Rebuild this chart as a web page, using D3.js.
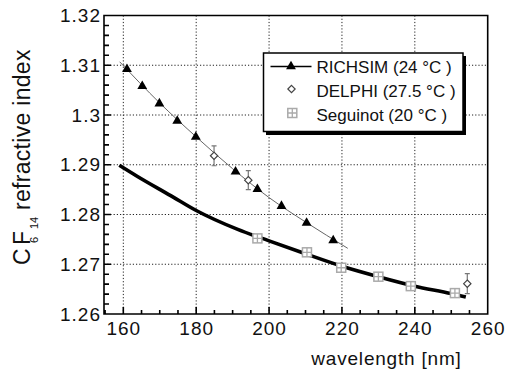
<!DOCTYPE html>
<html>
<head>
<meta charset="utf-8">
<script src="https://cdn.jsdelivr.net/npm/d3@7"></script>
<style>
  body { margin: 0; background: #fff; }
  svg { display: block; font-family: "Liberation Sans", Arial, Helvetica, sans-serif; }
</style>
</head>
<body>
<svg width="523" height="374"></svg>
<script>
// RICHSIM points (triangles), wavelength nm / refractive index
const richWl = [161, 165.2, 169.9, 174.8, 179.9, 190.8, 196.8, 203.4, 210.3, 217.6];
const richN = [1.3092, 1.3058, 1.3023, 1.2988, 1.2956, 1.2886, 1.2851, 1.2817, 1.2783, 1.2748];
// thin line through RICHSIM
const richFitWl = [159, 170, 180, 190, 200, 210, 221.6];
const richFitN = [1.3107, 1.3024, 1.2956, 1.2892, 1.2834, 1.2785, 1.2732];
// DELPHI points with errors
const delphiWl = [184.9, 194.3, 254.4];
const delphiN = [1.2918, 1.2869, 1.2661];
const delphiErr = [0.002, 0.0019, 0.002];
// Seguinot points
const segWl = [196.8, 210.4, 219.8, 230, 238.9, 251];
const segN = [1.2752, 1.2724, 1.2693, 1.2675, 1.2656, 1.2642];
// thick curve
const segFitWl = [158.9, 164, 173, 180, 191.4, 200, 210, 220, 230, 240, 250, 254];
const segFitN = [1.2899, 1.2876, 1.2838, 1.2808, 1.2770, 1.2747, 1.2721, 1.2696, 1.2675, 1.2656, 1.2641, 1.2634];

const xTicks = [160, 180, 200, 220, 240, 260];
const yTicks = [1.26, 1.27, 1.28, 1.29, 1.30, 1.31, 1.32];
const legendLabels = ["RICHSIM (24 °C )", "DELPHI (27.5 °C )", "Seguinot (20 °C )"];

const svg = d3.select("svg");
const L = 104, R = 487.7, T = 15.5, B = 314;

const x = d3.scaleLinear().domain([154.7, 260]).range([L, R]);
const y = d3.scaleLinear().domain([1.26, 1.32]).range([B, T]);

const minorX = d3.range(155, 260, 5).filter(d => d % 20 !== 0);
const minorY = d3.range(1.26, 1.3201, 0.002).filter(d => Math.abs(d * 100 - Math.round(d * 100)) > 1e-6);

// dotted grid as one path
let gridD = "";
xTicks.slice(0, -1).forEach(d => { gridD += `M${x(d)},${T}V${B}`; });
yTicks.slice(1, -1).forEach(d => { gridD += `M${L},${y(d)}H${R}`; });
svg.append("path").attr("d", gridD).attr("fill", "none")
  .attr("stroke", "#222").attr("stroke-width", 1).attr("stroke-dasharray", "1.2,2");

// curves
const lineGen = d3.line().curve(d3.curveMonotoneX).x(d => x(d[0])).y(d => y(d[1]));
svg.append("path").datum(d3.zip(segFitWl, segFitN)).attr("d", lineGen)
  .attr("fill", "none").attr("stroke", "#000").attr("stroke-width", 3.6);
svg.append("path").datum(d3.zip(richFitWl, richFitN)).attr("d", lineGen)
  .attr("fill", "none").attr("stroke", "#666").attr("stroke-width", 1);

// symbols
const tri = d3.symbol(d3.symbolTriangle, 42);
const dia = d3.symbol(d3.symbolDiamond2, 34);

function squareCross(g, cx, cy) {
  const s = 4.5;
  g.append("rect").attr("x", cx - s).attr("y", cy - s).attr("width", 2 * s).attr("height", 2 * s)
    .attr("fill", "#fff").attr("stroke", "#aaa").attr("stroke-width", 1.5);
  g.append("path").attr("d", `M${cx - s},${cy}H${cx + s}M${cx},${cy - s}V${cy + s}`)
    .attr("fill", "none").attr("stroke", "#aaa").attr("stroke-width", 1.3);
}

const segG = svg.append("g");
d3.zip(segWl, segN).forEach(d => squareCross(segG, x(d[0]), y(d[1])));

svg.append("g").selectAll("path").data(d3.zip(richWl, richN)).join("path")
  .attr("d", tri).attr("transform", d => `translate(${x(d[0])},${y(d[1])})`).attr("fill", "#000");

const del = svg.append("g").selectAll("g").data(d3.zip(delphiWl, delphiN, delphiErr)).join("g");
del.append("path")
  .attr("d", d => `M${x(d[0])},${y(d[1] + d[2])}V${y(d[1] - d[2])}M${x(d[0]) - 2.5},${y(d[1] + d[2])}h5M${x(d[0]) - 2.5},${y(d[1] - d[2])}h5`)
  .attr("fill", "none").attr("stroke", "#777").attr("stroke-width", 1.2);
del.append("path").attr("d", dia).attr("transform", d => `translate(${x(d[0])},${y(d[1])})`)
  .attr("fill", "#fff").attr("stroke", "#444").attr("stroke-width", 1.2);

// ticks (inward) and frame as one path
let tickD = `M${L},${T}H${R}V${B}H${L}Z`;
minorX.forEach(d => { tickD += `M${x(d)},${B}v-4`; });
xTicks.forEach(d => { tickD += `M${x(d)},${B}v-7`; });
minorY.forEach(d => { tickD += `M${L},${y(d)}h5`; });
yTicks.forEach(d => { tickD += `M${L},${y(d)}h7`; });
svg.append("path").attr("d", tickD).attr("fill", "none")
  .attr("stroke", "#000").attr("stroke-width", 1.6);

// tick labels
function labelAxis(g) {
  g.select(".domain").remove();
  g.selectAll(".tick line").remove();
  g.selectAll("text").attr("fill", "#111").style("font-size", "19px").style("letter-spacing", "1px");
}
svg.append("g").attr("transform", `translate(0,${B})`)
  .call(d3.axisBottom(x).tickValues(xTicks).tickSize(0).tickPadding(7.5).tickFormat(d3.format("d")))
  .call(labelAxis);
svg.append("g").attr("transform", `translate(${L},0)`)
  .call(d3.axisLeft(y).tickValues(yTicks).tickSize(0).tickPadding(3).tickFormat(d => +d.toFixed(2) + ""))
  .call(labelAxis);

// legend with drop shadow
const lg = svg.append("g");
lg.append("rect").attr("x", 266).attr("y", 56).attr("width", 200).attr("height", 79).attr("fill", "#000");
lg.append("rect").attr("x", 263.5).attr("y", 53).attr("width", 199.5).attr("height", 78.5)
  .attr("fill", "#fff").attr("stroke", "#000").attr("stroke-width", 1.5);
const rows = [66.5, 90.5, 114];
lg.append("path").attr("d", `M270.5,${rows[0]}H311.5`)
  .attr("fill", "none").attr("stroke", "#000").attr("stroke-width", 1.5);
lg.append("path").attr("d", tri).attr("transform", `translate(291,${rows[0]})`).attr("fill", "#000");
lg.append("path").attr("d", dia).attr("transform", `translate(291.5,${rows[1] - 1.5})`)
  .attr("fill", "#fff").attr("stroke", "#444").attr("stroke-width", 1.2);
squareCross(lg, 292.3, rows[2] - 1);
lg.selectAll("text").data(legendLabels).join("text")
  .attr("x", 316.5).attr("y", (d, i) => rows[i] + 6.5)
  .style("font-size", "17px").attr("fill", "#111").text(d => d);

// axis titles
svg.append("text").attr("x", 386.5).attr("y", 365).attr("text-anchor", "middle")
  .style("font-size", "19px").style("letter-spacing", "0.8px").attr("fill", "#111")
  .text("wavelength [nm]");

const yt = svg.append("g").attr("transform", "translate(30,265) rotate(-90)").attr("fill", "#111");
yt.append("text").attr("x", 0).style("font-size", "23px").text("C");
yt.append("text").attr("x", 20).style("font-size", "23px").text("F");
yt.append("text").attr("x", 22).attr("y", 8).style("font-size", "11px").text("6");
yt.append("text").attr("x", 36).attr("y", 8).style("font-size", "11px").text("14");
yt.append("text").attr("x", 55).style("font-size", "23px").style("letter-spacing", "0.3px").text("refractive index");
</script>
</body>
</html>
